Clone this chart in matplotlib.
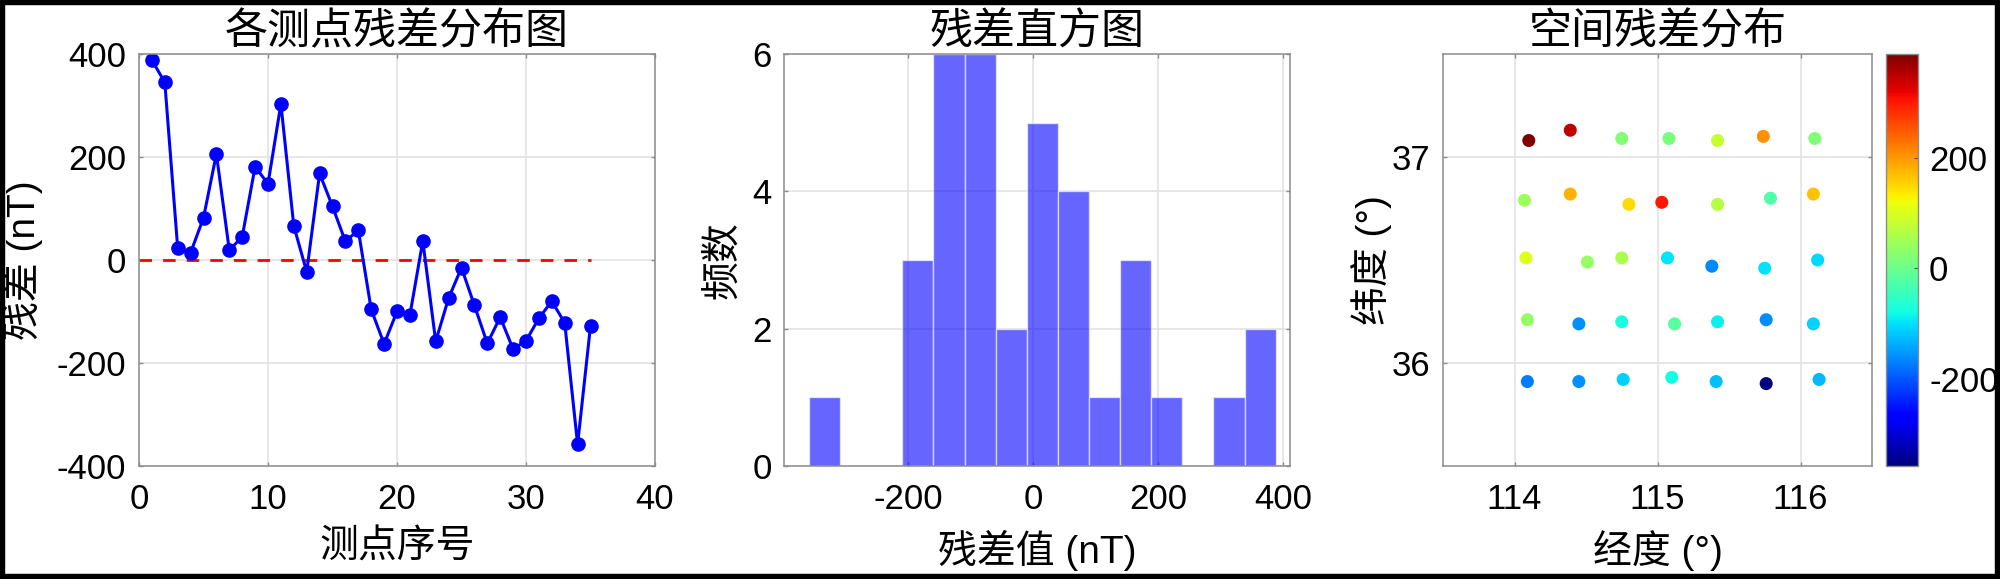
import numpy as np
import matplotlib
matplotlib.use('Agg')
import matplotlib.pyplot as plt
from matplotlib.patches import Rectangle

plt.rcParams['font.family'] = ['Liberation Sans', 'Noto Sans CJK SC', 'DejaVu Sans']
plt.rcParams['axes.unicode_minus'] = False

# data
point_no = np.arange(1, 36)
residual = [388, 345, 23, 14, 82, 206, 19, 45, 181, 148,
            303, 66, -23, 168, 104, 36, 58, -96, -163, -100,
            -107, 37, -158, -74, -15, -88, -162, -111, -173, -157,
            -113, -80, -122, -358, -128]
lon = [114.10, 114.39, 114.75, 115.08, 115.42, 115.74, 116.10,
       114.07, 114.39, 114.80, 115.03, 115.42, 115.79, 116.09,
       114.08, 114.51, 114.75, 115.07, 115.38, 115.75, 116.12,
       114.09, 114.45, 114.75, 115.12, 115.42, 115.76, 116.09,
       114.09, 114.45, 114.76, 115.10, 115.41, 115.76, 116.13]
lat = [37.08, 37.13, 37.09, 37.09, 37.08, 37.10, 37.09,
       36.79, 36.82, 36.77, 36.78, 36.77, 36.80, 36.82,
       36.51, 36.49, 36.51, 36.51, 36.47, 36.46, 36.50,
       36.21, 36.19, 36.20, 36.19, 36.20, 36.21, 36.19,
       35.91, 35.91, 35.92, 35.93, 35.91, 35.90, 35.92]

titles = ['各测点残差分布图', '残差直方图', '空间残差分布']

TICK = 25
LAB = 28
TIT = 31
W, H = 2000.0, 579.0


def px_axes(x0, x1, y0=54, y1=466):
    return fig.add_axes([x0 / W, (H - y1) / H, (x1 - x0) / W, (y1 - y0) / H])


def style(ax):
    for s in ax.spines.values():
        s.set_color('#8c8c8c')
        s.set_linewidth(1.1)
    ax.tick_params(direction='in', length=3, width=1, color='#8c8c8c',
                   top=True, right=True, labelsize=TICK, labelcolor='black')
    ax.tick_params(axis='x', pad=12)
    ax.tick_params(axis='y', pad=9)
    ax.grid(True, color='#e3e3e3', linewidth=1.2)
    ax.set_axisbelow(True)


fig = plt.figure(figsize=(20, 5.79), dpi=100)

# left: residual per point
ax1 = px_axes(139, 655)
style(ax1)
ax1.plot([0, 35], [0, 0], color='red', linestyle='--', dashes=(4.5, 4), linewidth=2)
ax1.plot(point_no, residual, color='blue', marker='o', markersize=9.5, linewidth=2.2)
ax1.set_xlim(0, 40)
ax1.set_ylim(-400, 400)
ax1.set_xticks([0, 10, 20, 30, 40])
ax1.set_yticks([-400, -200, 0, 200, 400])
ax1.set_title(titles[0], fontsize=TIT, pad=7)
ax1.set_xlabel('测点序号', fontsize=LAB)
ax1.set_ylabel('残差 (nT)', fontsize=LAB)

# middle: histogram
ax2 = px_axes(784, 1290)
style(ax2)
ax2.hist(residual, bins=15, color='blue', alpha=0.6, edgecolor='white', linewidth=1)
ax2.set_xlim(-398, 411)
ax2.set_ylim(0, 6)
ax2.set_xticks([-200, 0, 200, 400])
ax2.set_yticks([0, 2, 4, 6])
ax2.set_title(titles[1], fontsize=TIT, pad=7)
ax2.set_xlabel('残差值 (nT)', fontsize=LAB)
ax2.set_ylabel('频数', fontsize=LAB)

# right: spatial map
ax3 = px_axes(1443, 1872)
style(ax3)
sc = ax3.scatter(lon, lat, c=residual, cmap='jet', s=88, edgecolors='none')
ax3.set_xlim(113.5, 116.5)
ax3.set_ylim(35.5, 37.5)
ax3.set_xticks([114, 115, 116])
ax3.set_yticks([36, 37])
ax3.set_title(titles[2], fontsize=TIT, pad=7)
ax3.set_xlabel('经度 (°)', fontsize=LAB)
ax3.set_ylabel('纬度 (°)', fontsize=LAB)

cax = px_axes(1886, 1918)
cb = fig.colorbar(sc, cax=cax)
cb.set_ticks([-200, 0, 200])
cb.outline.set_edgecolor('#8c8c8c')
cb.outline.set_linewidth(1)
cax.tick_params(direction='in', length=3, color='#555555', labelsize=TICK, pad=8)

# label positions (axes fractions)
for ax, (x0, x1), ylab_right in [(ax1, (139, 655), 43), (ax2, (784, 1290), 742),
                                  (ax3, (1443, 1872), 1392)]:
    ax.xaxis.set_label_coords(0.5, (466 - 530) / 412.0)
    ax.yaxis.set_label_coords((ylab_right - x0) / float(x1 - x0), 0.5)

# black frame round the figure
fig.patches.append(Rectangle((0, 0), 1, 1, transform=fig.transFigure, fill=False,
                             edgecolor='black', linewidth=7.5, zorder=10))

fig.savefig('out.png', dpi=100, facecolor='white')
